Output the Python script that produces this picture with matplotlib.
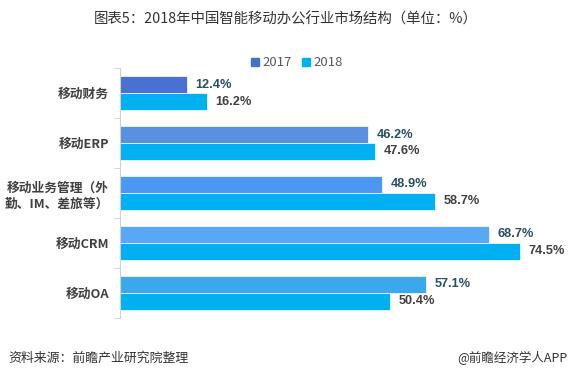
import matplotlib.pyplot as plt
import numpy as np

plt.rcParams['font.family'] = ['Noto Sans CJK SC', 'DejaVu Sans']

# Data
categories = ["移动财务", "移动ERP", "移动业务管理（外\n勤、IM、差旅等）", "移动CRM", "移动OA"]
vals_2017 = [12.4, 46.2, 48.9, 68.7, 57.1]
vals_2018 = [16.2, 47.6, 58.7, 74.5, 50.4]
colors_2017 = ["#4A70D2", "#5A90E2", "#4A98F2", "#58A8F6", "#3AA8EA"]
color_2018 = "#00B0F0"

fig = plt.figure(figsize=(5.72, 3.81), dpi=100)
ax = fig.add_axes([0.2098, 0.1654, 0.76, 0.6561])

y = np.arange(len(categories))
h = 0.34

ax.barh(y - h / 2, vals_2017, height=h, color=colors_2017, edgecolor="white", linewidth=0.5)
ax.barh(y + h / 2, vals_2018, height=h, color=color_2018, edgecolor="white", linewidth=0.5)

# value labels
for i in range(len(categories)):
    ax.text(vals_2017[i] + 1.6, y[i] - h / 2, "%.1f%%" % vals_2017[i], va="center", ha="left",
            fontsize=9.2, fontweight="bold", color="#28505E", family="Liberation Sans")
    ax.text(vals_2018[i] + 1.6, y[i] + h / 2, "%.1f%%" % vals_2018[i], va="center", ha="left",
            fontsize=9.2, fontweight="bold", color="#404040", family="Liberation Sans")

ax.set_xlim(0, 81)
ax.set_ylim(len(categories) - 0.5, -0.5)
ax.set_yticks(y)
ax.set_yticklabels(categories, fontsize=9.2, fontweight="bold", color="#404040", linespacing=1.3)
ax.set_yticks(np.arange(len(categories) + 1) - 0.5, minor=True)
ax.tick_params(axis="y", which="major", length=0, pad=8)
ax.tick_params(axis="y", which="minor", length=4, color="#D0D0D0")
ax.set_xticks([])
for s in ["top", "right", "bottom"]:
    ax.spines[s].set_visible(False)
ax.spines["left"].set_color("#D0D0D0")

# legend
fig.patches.append(plt.Rectangle((251 / 572, 1 - 66 / 381), 8 / 572, 8 / 381, color="#4472C4",
                                 transform=fig.transFigure, figure=fig))
fig.text(262 / 572, 1 - 62 / 381, "2017", fontsize=9.5, color="#595959", va="center")
fig.patches.append(plt.Rectangle((302 / 572, 1 - 66 / 381), 8 / 572, 8 / 381, color=color_2018,
                                 transform=fig.transFigure, figure=fig))
fig.text(313 / 572, 1 - 62 / 381, "2018", fontsize=9.5, color="#595959", va="center")

# title and footer
fig.text(0.5, 1 - 19 / 381, "图表5：2018年中国智能移动办公行业市场结构（单位：%）", ha="center", va="center",
         fontsize=10.4, color="#333333")
fig.text(8 / 572, 1 - 358 / 381, "资料来源：前瞻产业研究院整理", ha="left", va="center",
         fontsize=9.3, color="#333333", style="italic")
fig.text(568 / 572, 1 - 358 / 381, "@前瞻经济学人APP", ha="right", va="center",
         fontsize=9, color="#333333")

fig.savefig("out.png", dpi=100)
